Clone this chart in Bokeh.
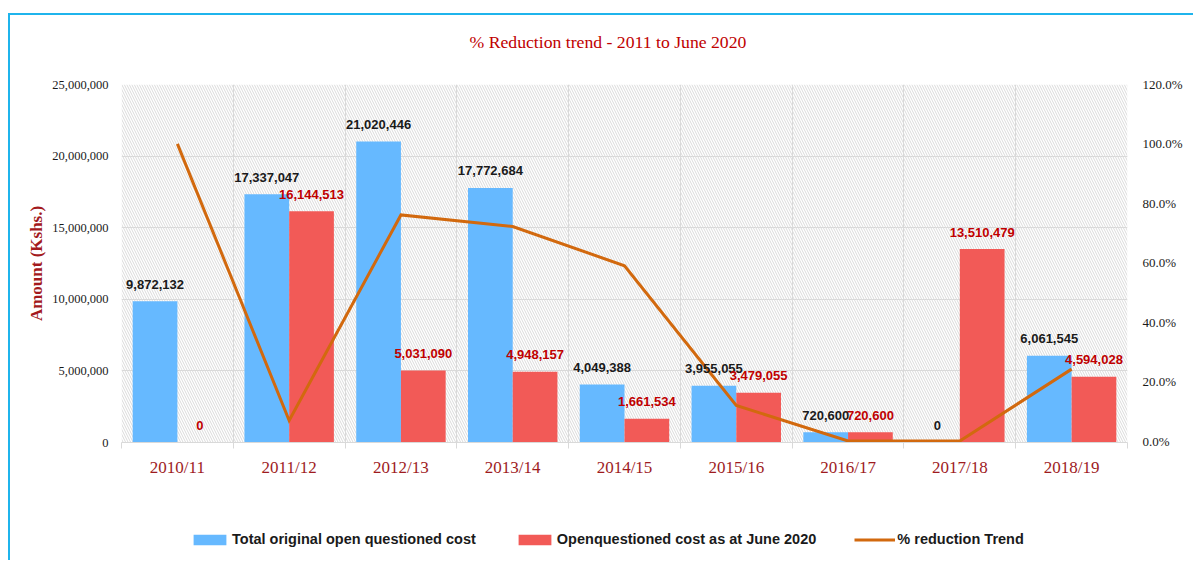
import numpy as np
from bokeh.plotting import figure
from bokeh.layouts import column
from bokeh.models import (ColumnDataSource, Range1d, LinearAxis, FixedTicker,
                          NumeralTickFormatter, LabelSet, Legend, LegendItem, BoxAnnotation)
from bokeh.transform import dodge
from bokeh.core.properties import value
from bokeh.embed import file_html
from bokeh.resources import INLINE

# ---------------- data ----------------
title_text = "% Reduction trend - 2011 to June 2020"
years = ["2010/11", "2011/12", "2012/13", "2013/14", "2014/15",
         "2015/16", "2016/17", "2017/18", "2018/19"]
original_cost = [9872132, 17337047, 21020446, 17772684, 4049388,
                 3955055, 720600, 0, 6061545]
open_cost = [0, 16144513, 5031090, 4948157, 1661534,
             3479055, 720600, 13510479, 4594028]
reduction_pct = [1.0, 0.069, 0.761, 0.722, 0.590, 0.120, 0.0, 0.0, 0.242]
amount_ticks = [0, 5000000, 10000000, 15000000, 20000000, 25000000]
pct_ticks = [0.0, 0.2, 0.4, 0.6, 0.8, 1.0, 1.2]
legend_labels = ["Total original open questioned cost",
                 "Openquestioned cost as at June 2020",
                 "% reduction Trend"]

# ---------------- styles ----------------
BLUE = "#66B9FF"
RED = "#F25A57"
ORANGE = "#D2690E"
GRID = "#d9d9d9"
DARKRED = "#9E1B1E"
SERIF = "Liberation Serif"
SANS = "Liberation Sans"
W = 1183
MB_L, MB_R = 111, 66
FRAME_W = W - MB_L - MB_R

n = len(years)
xpos = (np.arange(n) + 0.5).tolist()

src = ColumnDataSource(dict(
    x=xpos, year=years, orig=original_cost, open=open_cost, pct=reduction_pct,
    orig_lbl=[f"{v:,}" for v in original_cost],
    open_lbl=[f"{v:,}" for v in open_cost],
))

# ---------------- header (title) ----------------
head = figure(width=W, height=60, x_range=Range1d(0, FRAME_W), y_range=Range1d(0, 60),
              output_backend="svg", toolbar_location=None,
              x_axis_location=None, y_axis_location=None,
              min_border_left=MB_L, min_border_right=MB_R,
              min_border_top=0, min_border_bottom=0)
head.outline_line_color = None
head.grid.visible = False
head.text(x=[348], y=[34], text=[title_text], text_align="left", text_baseline="middle",
          text_font=value(SERIF), text_font_size="17.7px", text_color="#C00000")

# ---------------- main chart ----------------
p = figure(width=W, height=415, x_range=Range1d(0, n),
           y_range=Range1d(amount_ticks[0], amount_ticks[-1]),
           output_backend="svg", toolbar_location=None,
           min_border_left=MB_L, min_border_right=MB_R,
           min_border_top=9, min_border_bottom=48)
p.outline_line_color = None
p.background_fill_color = "white"
p.border_fill_color = "white"

# hatch background
p.add_layout(BoxAnnotation(fill_alpha=0, line_alpha=0, hatch_pattern="left_diagonal_line",
                           hatch_color="#dadada", hatch_scale=5, hatch_weight=1,
                           level="underlay"))

# grids
p.xgrid.ticker = FixedTicker(ticks=list(range(n + 1)))
p.xgrid.grid_line_color = GRID
p.ygrid.ticker = FixedTicker(ticks=amount_ticks)
p.ygrid.grid_line_color = GRID

# x axis
xa = p.xaxis[0]
xa.ticker = FixedTicker(ticks=xpos, minor_ticks=list(range(n + 1)))
xa.major_label_overrides = {x: y for x, y in zip(xpos, years)}
xa.major_tick_line_color = None
xa.major_tick_out = 6
xa.minor_tick_line_color = GRID
xa.minor_tick_in = 0
xa.minor_tick_out = 6
xa.axis_line_color = GRID
xa.major_label_text_font = SERIF
xa.major_label_text_font_size = "17px"
xa.major_label_text_color = DARKRED
xa.major_label_standoff = 9

# left axis
ya = p.yaxis[0]
ya.ticker = FixedTicker(ticks=amount_ticks)
ya.formatter = NumeralTickFormatter(format="0,0")
ya.axis_line_color = None
ya.major_tick_line_color = None
ya.minor_tick_line_color = None
ya.major_tick_out = 0
ya.major_label_standoff = 13
ya.major_label_text_font = SERIF
ya.major_label_text_font_size = "12.5px"
ya.major_label_text_color = "#1a1a1a"
ya.axis_label = "Amount (Kshs.)"
ya.axis_label_text_font = SERIF
ya.axis_label_text_font_style = "bold"
ya.axis_label_text_font_size = "17px"
ya.axis_label_text_color = "#A31A1D"
ya.axis_label_standoff = 3

# right axis (tiny negative start keeps the 0% line segment from being half clipped)
p.extra_y_ranges = {"pct": Range1d(pct_ticks[0] - 0.005, pct_ticks[-1])}
ra = LinearAxis(y_range_name="pct", ticker=FixedTicker(ticks=pct_ticks),
                formatter=NumeralTickFormatter(format="0.0%"))
ra.axis_line_color = None
ra.major_tick_line_color = None
ra.minor_tick_line_color = None
ra.major_tick_out = 0
ra.major_label_standoff = 15
ra.major_label_text_font = SERIF
ra.major_label_text_font_size = "13px"
ra.major_label_text_color = "#1a1a1a"
p.add_layout(ra, "right")

# bars and line
bar_style_blue = dict(fill_color=BLUE, line_color=None)
bar_style_red = dict(fill_color=RED, line_color=None)
line_style = dict(line_color=ORANGE, line_width=3, line_join="miter")

p.vbar(x=dodge("x", -0.2, range=p.x_range), top="orig", width=0.4, source=src, **bar_style_blue)
p.vbar(x=dodge("x", 0.2, range=p.x_range), top="open", width=0.4, source=src, **bar_style_red)
p.line(x="x", y="pct", source=src, y_range_name="pct", **line_style)

# value labels
p.add_layout(LabelSet(x=dodge("x", -0.2, range=p.x_range), y="orig", text="orig_lbl", source=src,
                      text_align="center", text_baseline="middle", y_offset=17,
                      text_font=value(SANS), text_font_style="bold",
                      text_font_size="13px", text_color="#1a1a1a"))
p.add_layout(LabelSet(x=dodge("x", 0.2, range=p.x_range), y="open", text="open_lbl", source=src,
                      text_align="center", text_baseline="middle", y_offset=17,
                      text_font=value(SANS), text_font_style="bold",
                      text_font_size="13px", text_color="#C00000"))

# ---------------- footer (legend) ----------------
# legend-only panel: placeholder renderers hold a single NaN row, so nothing but
# the legend swatches is drawn
nan = float("nan")
foot = figure(width=W, height=70, x_range=Range1d(0, 1), y_range=Range1d(0, 1),
              output_backend="svg", toolbar_location=None,
              x_axis_location=None, y_axis_location=None,
              min_border_left=MB_L, min_border_right=MB_R,
              min_border_top=0, min_border_bottom=0)
foot.outline_line_color = None
foot.grid.visible = False
lb = foot.vbar(x=[nan], top=[nan], width=0.4, **bar_style_blue)
lr = foot.vbar(x=[nan], top=[nan], width=0.4, **bar_style_red)
ll = foot.line(x=[nan], y=[nan], **line_style)
legend = Legend(items=[
    LegendItem(label=legend_labels[0], renderers=[lb]),
    LegendItem(label=legend_labels[1], renderers=[lr]),
    LegendItem(label=legend_labels[2], renderers=[ll]),
], orientation="horizontal", location=(68, 13), glyph_width=41, glyph_height=13,
    label_standoff=2, spacing=38, padding=0, margin=0,
    label_text_font=SANS, label_text_font_style="bold", label_text_font_size="14.5px",
    label_text_color="#1a1a1a", border_line_color=None, background_fill_alpha=0)
foot.add_layout(legend, "center")

layout = column(head, p, foot, spacing=0, margin=(13, 0, 0, 8),
                styles={"border-top": "2px solid #1FB4EC", "border-left": "2px solid #1FB4EC"})

open("out.html", "w").write(file_html(layout, INLINE))
